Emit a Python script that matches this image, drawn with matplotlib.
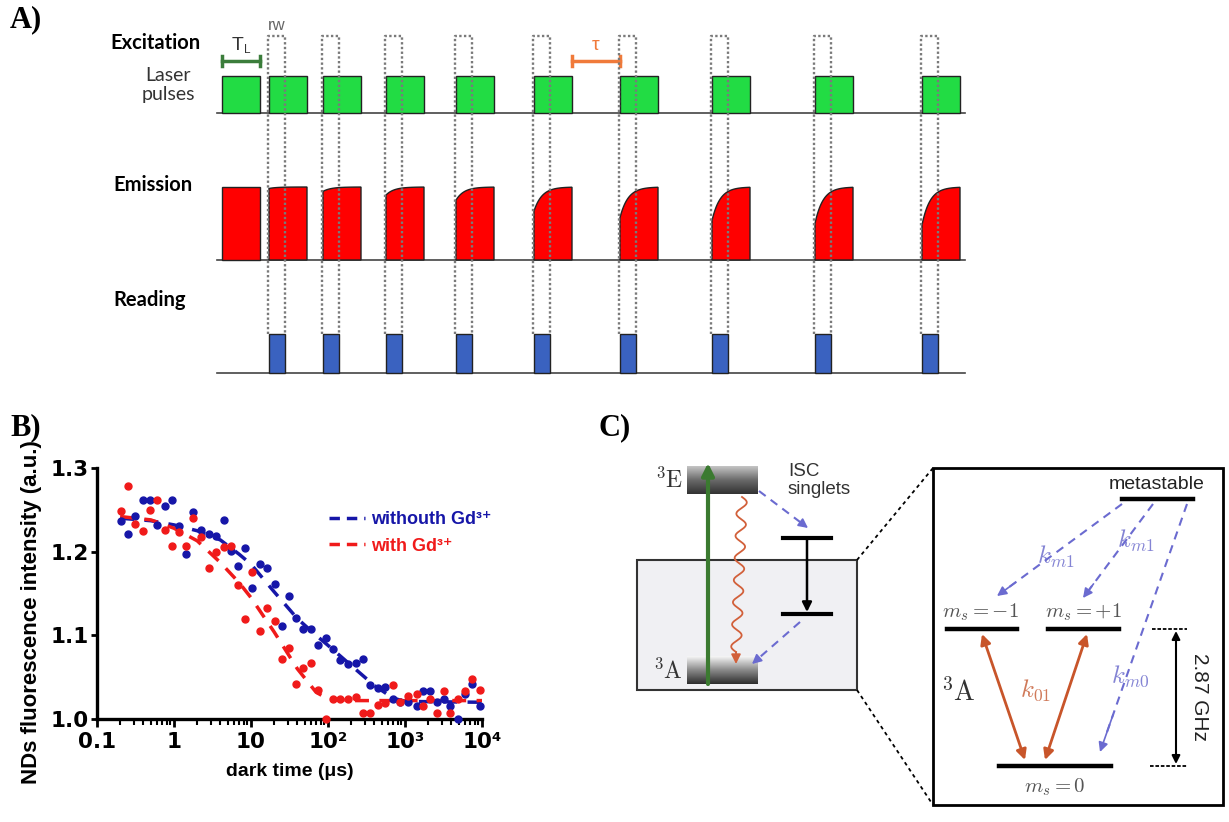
import matplotlib.pyplot as plt
import numpy as np
from matplotlib.lines import Line2D
from matplotlib.patches import Rectangle
from matplotlib.colors import LinearSegmentedColormap
from matplotlib.ticker import LogLocator, NullFormatter

plt.rcParams['font.family'] = ['Liberation Sans', 'DejaVu Sans']

# ---------------- data ----------------
# A) pulse sequence: laser pulse length and the growing dark gaps (tau)
pulse_len = 38
dark_gaps = [9, 16, 25, 32, 40, 48, 54, 65, 69]
emission_drop = [0.0, 0.02, 0.06, 0.11, 0.18, 0.33, 0.42, 0.46, 0.50, 0.52]
read_len = 16

# B) fluorescence vs dark time
dark_time = [0.205, 0.25, 0.314, 0.391, 0.492, 0.60, 0.755, 0.94, 1.17, 1.43,
             1.79, 2.26, 2.81, 3.53, 4.40, 5.53, 6.75, 8.4, 10.4, 13.1,
             16.0, 20.2, 25.1, 31.6, 38.5, 48, 60, 75, 94, 117,
             144, 184, 231, 288, 351, 442, 551, 706, 861, 1100,
             1420, 1700, 2110, 2580, 3170, 3880, 4820, 6000, 7400, 9300]
no_gd = [1.237, 1.221, 1.243, 1.262, 1.262, 1.232, 1.254, 1.262, 1.231, 1.197,
         1.247, 1.226, 1.221, 1.219, 1.238, 1.201, 1.183, 1.204, 1.156, 1.185,
         1.181, 1.161, 1.111, 1.147, 1.121, 1.107, 1.107, 1.088, 1.097, 1.084,
         1.071, 1.066, 1.067, 1.072, 1.041, 1.037, 1.038, 1.024, 1.020, 1.020,
         1.016, 1.033, 1.033, 1.020, 1.024, 1.016, 1.000, 1.030, 1.042, 1.016]
with_gd = [1.249, 1.278, 1.233, 1.225, 1.250, 1.262, 1.226, 1.207, 1.224, 1.207,
           1.240, 1.218, 1.181, 1.200, 1.206, 1.207, 1.160, 1.120, 1.176, 1.105,
           1.133, 1.117, 1.072, 1.085, 1.042, 1.061, 1.067, 1.035, 1.000, 1.024,
           1.024, 1.024, 1.026, 1.007, 1.007, 1.017, 1.019, 1.041, 1.020, 1.028,
           1.030, 1.015, 1.024, 1.007, 1.033, 1.007, 1.024, 1.034, 1.048, 1.035]
fit_t_blue = [0.2, 0.5, 1, 2, 4, 7, 10, 20, 40, 70, 100, 200, 400, 700, 1000, 10000]
fit_blue = [1.240, 1.237, 1.232, 1.225, 1.214, 1.197, 1.185, 1.152, 1.120, 1.100,
            1.088, 1.064, 1.040, 1.025, 1.021, 1.020]
fit_t_red = [0.2, 0.5, 1, 2, 4, 7, 10, 20, 40, 70, 100, 200, 10000]
fit_red = [1.242, 1.238, 1.228, 1.213, 1.187, 1.163, 1.145, 1.104, 1.060, 1.032,
           1.024, 1.022, 1.022]
xtick_vals = [0.1, 1, 10, 100, 1000, 10000]
xtick_text = ['0.1', '1', '10', '10²', '10³', '10⁴']
ytick_vals = [1.0, 1.1, 1.2, 1.3]

blue_c = '#1616a8'
red_c = '#f01a1a'
purple = '#6b6bd0'

W, H = 1229, 822
fig = plt.figure(figsize=(W / 100, H / 100), dpi=100)
bg = fig.add_axes([0, 0, 1, 1])
bg.axis('off')

serif = ['Liberation Serif', 'DejaVu Serif']
for lab, x, y in [('A)', 10, 20), ('B)', 10, 428), ('C)', 598, 428)]:
    bg.text(x, y, lab, fontsize=22, fontweight='bold', family=serif, va='center')

# ---------------- panel A ----------------
starts = [222]
for g in dark_gaps:
    starts.append(starts[-1] + pulse_len + g)

x_a0, x_a1 = 217, 965
for base in (113, 260, 373):
    bg.plot([x_a0, x_a1], [base, base], color='#444', lw=1.2, zorder=2)

lbl = dict(family=['Lato', 'DejaVu Sans'], va='center')
bg.text(110, 43, 'Excitation', fontsize=14.5, fontweight='bold', **lbl)
bg.text(168, 85, 'Laser\npulses', fontsize=14, ha='center', color='#333',
        linespacing=1.2, **lbl)
bg.text(113, 185, 'Emission', fontsize=14.5, fontweight='bold', **lbl)
bg.text(113, 300, 'Reading', fontsize=14.5, fontweight='bold', **lbl)

for s in starts:
    bg.add_patch(Rectangle((s, 76), pulse_len, 37, fc='#22dc44', ec='#222',
                           lw=1, zorder=3))

for s, d in zip(starts, emission_drop):
    t = np.linspace(0, pulse_len, 80)
    top = 187 + d * 73 * np.exp(-t / 8)
    xs = np.concatenate([[s], s + t, [s + pulse_len]])
    ys = np.concatenate([[260], top, [260]])
    bg.fill(xs, ys, fc='#ff0000', ec='#222', lw=1, zorder=3)

for s in starts[1:]:
    bg.add_patch(Rectangle((s, 334), read_len, 39, fc='#3a62c0', ec='#222',
                           lw=1, zorder=3))
    bg.plot([s - 1, s - 1, s + read_len, s + read_len], [334, 36, 36, 334],
            ls=(0, (1, 1)), color='#7a7a7a', lw=1.7, zorder=4)

# T_L and tau brackets
bg.plot([222, 260], [61, 61], color='#3b7d3b', lw=2.5)
bg.plot([222, 222], [56, 66], color='#3b7d3b', lw=2.5)
bg.plot([260, 260], [56, 66], color='#3b7d3b', lw=2.5)
bg.text(238, 45, 'T', fontsize=14, ha='center', va='center', color='#333')
bg.text(247, 50, 'L', fontsize=8.5, ha='center', va='center', color='#333')
tau0, tau1 = starts[5] + pulse_len, starts[6]
bg.plot([tau0, tau1], [61, 61], color='#f07a3a', lw=2.5)
bg.plot([tau0, tau0], [56, 66], color='#f07a3a', lw=2.5)
bg.plot([tau1, tau1], [56, 66], color='#f07a3a', lw=2.5)
bg.text((tau0 + tau1) / 2, 45, 'τ', fontsize=14, ha='center', va='center',
        color='#f07a3a')
bg.text(277, 25, 'rw', fontsize=12, ha='center', va='center', color='#666')

# ---------------- panel B ----------------
axb = fig.add_axes([97 / W, 1 - 719 / H, 385 / W, 251 / H])
axb.plot(fit_t_blue, fit_blue, color=blue_c, lw=2.5, ls=(0, (4, 3)), zorder=3)
axb.plot(fit_t_red, fit_red, color=red_c, lw=2.5, ls=(0, (4, 3)), zorder=3)
axb.plot(dark_time, no_gd, 'o', color=blue_c, ms=5, clip_on=False, zorder=4)
axb.plot(dark_time, with_gd, 'o', color=red_c, ms=5, clip_on=False, zorder=4)
axb.set_xscale('log')
axb.set_xlim(0.1, 1e4)
axb.set_ylim(1.0, 1.3)
axb.set_xticks(xtick_vals)
axb.set_xticklabels(xtick_text)
axb.xaxis.set_minor_locator(LogLocator(base=10, subs=range(2, 10)))
axb.xaxis.set_minor_formatter(NullFormatter())
axb.set_yticks(ytick_vals)
axb.set_yticklabels(['%.1f' % v for v in ytick_vals])
for sp in ('top', 'right'):
    axb.spines[sp].set_visible(False)
for sp in ('left', 'bottom'):
    axb.spines[sp].set_linewidth(2.4)
axb.tick_params(axis='x', which='major', length=6, width=2, pad=3)
axb.tick_params(axis='x', which='minor', length=4, width=1.5)
axb.tick_params(axis='y', length=4, width=2, pad=2)
for t in axb.get_xticklabels() + axb.get_yticklabels():
    t.set_fontweight('bold')
    t.set_fontfamily('DejaVu Sans')
    t.set_fontsize(15.5)
axb.set_xlabel('dark time (μs)', fontsize=14, fontweight='bold', labelpad=8)
axb.set_ylabel('NDs fluorescence intensity (a.u.)', fontsize=16,
               fontweight='bold')
axb.yaxis.set_label_coords(-55 / 385, (719 - 612) / 251)
handles = [Line2D([], [], color=blue_c, lw=2.5, dashes=(3, 2, 3, 2, 1, 2)),
           Line2D([], [], color=red_c, lw=2.5, dashes=(3, 2, 3, 2, 1, 2))]
axb.legend(handles, ['withouth Gd³⁺', 'with Gd³⁺'], loc='center left',
           bbox_to_anchor=(322 / W, 1 - 533 / H), bbox_transform=fig.transFigure,
           frameon=False, borderaxespad=0, handlelength=2.0, handletextpad=0.3,
           labelspacing=0.5, prop=dict(weight='bold', size=13),
           labelcolor='linecolor')

# ---------------- panel C ----------------
bg.add_patch(Rectangle((637, 560), 220, 130, fc='#f0f0f3', ec='#333', lw=1.5,
                       zorder=1))
cm_e = LinearSegmentedColormap.from_list('e', ['#c4c4c4', '#6a6a6a', '#333333'])
cm_a = LinearSegmentedColormap.from_list('a', ['#f6f6f6', '#8a8a8a', '#2e2e2e'])
grad = np.linspace(0, 1, 60).reshape(-1, 1)
bg.imshow(grad, extent=[687, 758, 494, 466], cmap=cm_e, aspect='auto', zorder=2)
bg.imshow(grad, extent=[687, 758, 684, 656], cmap=cm_a, aspect='auto', zorder=2)

bg.annotate('', xy=(708, 463), xytext=(708, 684),
            arrowprops=dict(arrowstyle='-|>', color='#3b7a30', lw=3,
                            mutation_scale=18, shrinkA=0, shrinkB=0), zorder=5)

sw = np.linspace(0, 1, 400)
xw = 742 + (736 - 742) * sw + 5 * np.sin(2 * np.pi * 7 * sw)
yw = 497 + (652 - 497) * sw
bg.plot(xw, yw, color='#d2603a', lw=1.3, zorder=5)
bg.annotate('', xy=(736, 664), xytext=(736, 652),
            arrowprops=dict(arrowstyle='-|>', color='#d2603a', lw=1.3,
                            mutation_scale=14, shrinkA=0, shrinkB=0), zorder=5)


def dashed_arrow(x0, y0, x1, y1, color):
    bg.plot([x0, x1 - (x1 - x0) * 0.08], [y0, y1 - (y1 - y0) * 0.08],
            ls=(0, (4, 3)), color=color, lw=1.5, zorder=5)
    bg.annotate('', xy=(x1, y1), xytext=(x1 - (x1 - x0) * 0.15, y1 - (y1 - y0) * 0.15),
                arrowprops=dict(arrowstyle='-|>', color=color, lw=1.2,
                                mutation_scale=14, shrinkA=0, shrinkB=0), zorder=5)


dashed_arrow(759, 491, 808, 528, purple)
dashed_arrow(800, 622, 752, 664, purple)

bg.plot([783, 831], [538, 538], color='k', lw=3)
bg.plot([783, 831], [614, 614], color='k', lw=3)
bg.annotate('', xy=(807, 612), xytext=(807, 540),
            arrowprops=dict(arrowstyle='-|>', color='k', lw=1.8,
                            mutation_scale=14, shrinkA=0, shrinkB=0))

bg.text(683, 480, r'$^3\mathrm{E}$', fontsize=17, ha='right', va='center',
        math_fontfamily='cm', color='#333')
bg.text(683, 671, r'$^3\mathrm{A}$', fontsize=17, ha='right', va='center',
        math_fontfamily='cm', color='#333', zorder=6)
bg.text(788, 463, 'ISC\nsinglets', fontsize=13.5, ha='left', va='top',
        color='#333', linespacing=1.1)

# zoomed 3A box
bg.plot([857, 933], [560, 468], ls=(0, (2, 2)), color='k', lw=1.3)
bg.plot([857, 933], [690, 805], ls=(0, (2, 2)), color='k', lw=1.3)
bg.add_patch(Rectangle((933, 468), 290, 337, fc='white', ec='k', lw=2, zorder=1))

bg.text(1157, 484, 'metastable', fontsize=14, ha='center', va='center', color='#222')
bg.plot([1122, 1193], [499, 499], color='k', lw=3.2)
bg.plot([947, 1017], [629, 629], color='k', lw=3.2)
bg.plot([1048, 1119], [629, 629], color='k', lw=3.2)
bg.plot([999, 1111], [766, 766], color='k', lw=3.2)

mt = dict(math_fontfamily='cm', ha='center', va='center')
bg.text(980, 612, r'$m_s=-1$', fontsize=15, color='#555', **mt)
bg.text(1083, 612, r'$m_s=+1$', fontsize=15, color='#555', **mt)
bg.text(1055, 787, r'$m_s=0$', fontsize=15, color='#555', **mt)
bg.text(958, 693, r'$^3\mathrm{A}$', fontsize=20, color='#333', **mt)
bg.text(1056, 557, r'$k_{m1}$', fontsize=18, color='#8484d4', **mt)
bg.text(1136, 541, r'$k_{m1}$', fontsize=18, color='#8484d4', **mt)
bg.text(1130, 676, r'$k_{m0}$', fontsize=18, color='#8484d4', **mt)
bg.text(1036, 690, r'$k_{01}$', fontsize=18, color='#d07a5a', **mt)

dashed_arrow(1122, 504, 997, 596, purple)
dashed_arrow(1153, 504, 1083, 598, purple)
dashed_arrow(1187, 504, 1100, 752, purple)

for (xa, ya, xb, yb) in [(982, 634, 1025, 760), (1087, 634, 1045, 760)]:
    bg.annotate('', xy=(xb, yb), xytext=(xa, ya),
                arrowprops=dict(arrowstyle='<|-|>', color='#c8552a', lw=2,
                                mutation_scale=15, shrinkA=0, shrinkB=0))

bg.plot([1152, 1187], [629, 629], ls=(0, (2, 1)), color='k', lw=1.3)
bg.plot([1150, 1187], [766, 766], ls=(0, (2, 1)), color='k', lw=1.3)
bg.annotate('', xy=(1176, 764), xytext=(1176, 631),
            arrowprops=dict(arrowstyle='<|-|>', color='k', lw=1.5,
                            mutation_scale=12, shrinkA=0, shrinkB=0))
bg.text(1200, 697, '2.87 GHz', fontsize=15, rotation=-90, ha='center',
        va='center', color='#222')

bg.set_xlim(0, W)
bg.set_ylim(H, 0)

fig.savefig('out.png', dpi=100)
